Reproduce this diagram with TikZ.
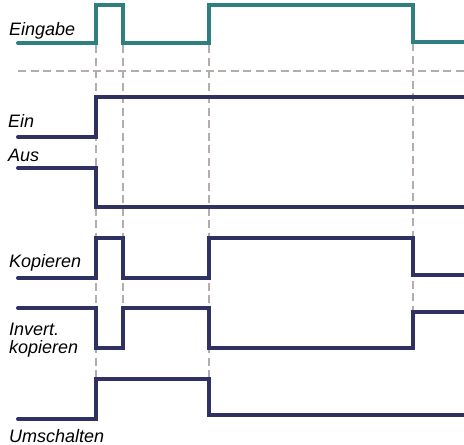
\documentclass[tikz,border=0pt]{standalone}
\usepackage{fontspec}
\setmainfont{Liberation Sans}
\begin{document}
\begin{tikzpicture}[x=1pt,y=-1pt,
  lbl/.style={anchor=base west,inner sep=0pt,font=\fontsize{18}{20}\selectfont\itshape},
  teal sig/.style={draw=tealc,line width=4pt,line cap=round},
  navy sig/.style={draw=navyc,line width=4pt,line cap=round},
  guide/.style={draw=grayc,line width=1.8pt,dash pattern=on 8pt off 4.5pt}]
\definecolor{tealc}{HTML}{2F7E80}
\definecolor{navyc}{HTML}{2E3162}
\definecolor{grayc}{HTML}{B5ADAA}
\useasboundingbox (0,0) rectangle (464,445);
% transition times
\coordinate (t1) at (96,0);
\coordinate (t2) at (123,0);
\coordinate (t3) at (209,0);
\coordinate (t4) at (413,0);
% guide lines
\draw[guide] (18,71) -- (464,71);
\draw[guide] (96,45) -- (96,379);
\draw[guide] (123,45) -- (123,310);
\draw[guide] (209,45) -- (209,379);
\draw[guide] (413,43) -- (413,312);
% Eingabe
\draw[teal sig] (18,43) -- (96,43) -- (96,5) -- (123,5) -- (123,43) -- (209,43) -- (209,5) -- (413,5) -- (413,42) -- (466,42);
% Ein
\draw[navy sig] (18,137) -- (96,137) -- (96,97) -- (466,97);
% Aus
\draw[navy sig] (18,168) -- (96,168) -- (96,207) -- (466,207);
% Kopieren
\draw[navy sig] (18,278) -- (96,278) -- (96,238) -- (123,238) -- (123,278) -- (209,278) -- (209,238) -- (413,238) -- (413,275) -- (466,275);
% Invert. kopieren
\draw[navy sig] (18,308) -- (96,308) -- (96,348) -- (123,348) -- (123,308) -- (209,308) -- (209,348) -- (413,348) -- (413,312) -- (466,312);
% Umschalten
\draw[navy sig] (18,419) -- (96,419) -- (96,379) -- (209,379) -- (209,415) -- (466,415);
% labels
\node[lbl] (eingabe) at (9,35) {Eingabe};
\node[lbl] (ein) at (8,127) {Ein};
\node[lbl] (aus) at (8,161) {Aus};
\node[lbl] (kop) at (9,267) {Kopieren};
\node[lbl] (inv) at (9,335) {Invert.};
\node[lbl] (inv2) at (9,353) {kopieren};
\node[lbl] (ums) at (9,442) {Umschalten};
\end{tikzpicture}
\end{document}
